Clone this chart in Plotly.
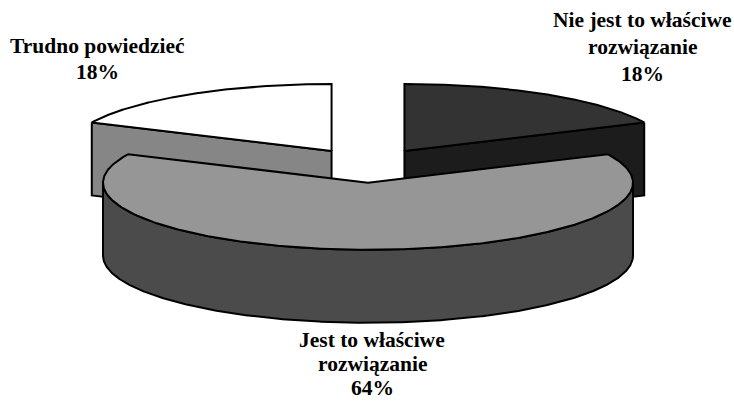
import numpy as np
import plotly.graph_objects as go

# --- data -------------------------------------------------------------------
categories = [
    "Nie jest to właściwe rozwiązanie",
    "Jest to właściwe rozwiązanie",
    "Trudno powiedzieć",
]
label_lines = [
    ["Nie jest to właściwe", "rozwiązanie"],
    ["Jest to właściwe", "rozwiązanie"],
    ["Trudno powiedzieć"],
]
values = [18, 64, 18]
top_colors = ["#333333", "#969696", "#ffffff"]
side_colors = ["#1c1c1c", "#4b4b4b", "#868686"]

# --- geometry of the 3-D pie ------------------------------------------------
W, H = 734, 403
CX, CY = 368.0, 165.5      # centre of the un-exploded pie
RX = 265.0                 # horizontal radius
TILT = 0.253               # vertical squash of the top face
RY = RX * TILT
DEPTH = 73.0               # thickness of the pie
EXPLODE = 68.0             # distance each slice is pulled out
START = 90.0               # first slice starts at 12 o'clock, clockwise

# label anchors: centre x, baseline of the first line and line step (pixels)
LABEL_X = [642, 372, 97]
LABEL_Y0 = [27, 347, 53]
LINE_STEP = [27, 24, 26]
FONT = dict(family="Times New Roman", size=21.5, color="#000000")

total = float(sum(values))


def rim(cx, cy, deg, dy=0.0):
    t = np.radians(deg)
    return cx + RX * np.cos(t), cy - RY * np.sin(t) + dy


slices = []
acc = 0.0
for i, v in enumerate(values):
    a0 = START - 360.0 * acc / total
    a1 = a0 - 360.0 * v / total
    acc += v
    mid = np.radians((a0 + a1) / 2.0)
    cx = CX + EXPLODE * np.cos(mid)
    cy = CY - EXPLODE * TILT * np.sin(mid)
    slices.append(dict(i=i, a0=a0, a1=a1, cx=cx, cy=cy))

fig = go.Figure()


def add_poly(xs, ys, color):
    xs = list(xs) + [xs[0]]
    ys = list(ys) + [ys[0]]
    fig.add_trace(go.Scatter(
        x=xs, y=ys, mode="lines", fill="toself", fillcolor=color,
        line=dict(color="#000000", width=2), hoverinfo="skip", showlegend=False,
    ))


# paint back slices first
for s in sorted(slices, key=lambda s: s["cy"]):
    i, a0, a1, cx, cy = s["i"], s["a0"], s["a1"], s["cx"], s["cy"]

    # radial cut faces that turn towards the viewer
    for edge, normal in ((a1, a1 - 90.0), (a0, a0 + 90.0)):
        if np.sin(np.radians(normal)) < -1e-6:
            rx, ry = rim(cx, cy, edge)
            add_poly([rx, cx, cx, rx], [ry, cy, cy + DEPTH, ry + DEPTH], side_colors[i])

    # outer wall on the front half of the ellipse
    ts = np.linspace(a0, a1, 721)
    front = np.sin(np.radians(ts)) <= 1e-9
    runs, cur = [], []
    for t, f in zip(ts, front):
        if f:
            cur.append(t)
        elif cur:
            runs.append(cur)
            cur = []
    if cur:
        runs.append(cur)
    for run in runs:
        run = np.array(run)
        if len(run) < 2:
            continue
        tx, ty = rim(cx, cy, run)
        bx, by = rim(cx, cy, run[::-1], DEPTH)
        add_poly(np.concatenate([tx, bx]), np.concatenate([ty, by]), side_colors[i])

    # top face
    arc = np.linspace(a0, a1, 361)
    ax, ay = rim(cx, cy, arc)
    add_poly(np.concatenate([[cx], ax]), np.concatenate([[cy], ay]), top_colors[i])

# data labels: category name and share (placed in paper space so they may
# sit right at the bottom edge)
for i, v in enumerate(values):
    lines = label_lines[i] + [f"{round(100 * v / total):d}%"]
    for k, txt in enumerate(lines):
        ypx = LABEL_Y0[i] + k * LINE_STEP[i] - 7
        fig.add_annotation(
            x=LABEL_X[i] / W, y=1 - ypx / H,
            xref="paper", yref="paper", text=f"<b>{txt}</b>", showarrow=False,
            xanchor="center", yanchor="middle", font=FONT,
        )

fig.update_layout(
    width=W, height=H,
    margin=dict(l=0, r=0, t=0, b=0),
    paper_bgcolor="#ffffff", plot_bgcolor="#ffffff",
    xaxis=dict(range=[0, W], visible=False, fixedrange=True),
    yaxis=dict(range=[H, 0], visible=False, fixedrange=True),
    showlegend=False,
)

fig.write_html("out.html")
